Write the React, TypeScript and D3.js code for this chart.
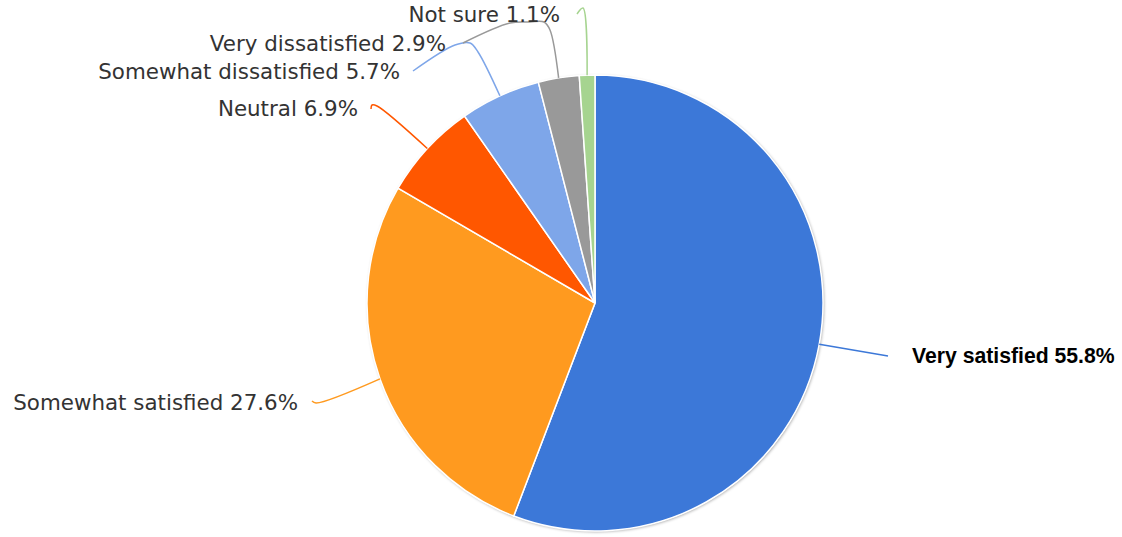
import React from "react";
import * as d3 from "d3";

const categories = [
  "Very satisfied",
  "Somewhat satisfied",
  "Neutral",
  "Somewhat dissatisfied",
  "Very dissatisfied",
  "Not sure",
];
const values = [55.8, 27.6, 6.9, 5.7, 2.9, 1.1];
const colors = ["#3c78d8", "#ff9a1f", "#ff5700", "#7ea6e9", "#999999", "#a6d490"];

// layout: label anchor and leader-line waypoints (pixel layout, not data)
const labelLayout = [
  { x: 912, y: 363, anchor: "start", bold: true, path: [[888, 356]] },
  { x: 298, y: 410, anchor: "end", bold: false, path: [[316, 403], [312, 401]] },
  { x: 358, y: 116, anchor: "end", bold: false, path: [[377, 106], [372, 105], [371, 109]] },
  { x: 400, y: 79, anchor: "end", bold: false, path: [[478, 52], [470, 43], [455, 45], [413, 71]] },
  { x: 446, y: 51, anchor: "end", bold: false, path: [[550, 30], [544, 22], [530, 22], [510, 23], [463, 43]] },
  { x: 560, y: 22, anchor: "end", bold: false, path: [[583, 8], [577, 14]] },
];

const W = 1122;
const H = 537;
const cx = 595;
const cy = 303;
const R = 228;

export default function App() {
  const pie = d3
    .pie<number>()
    .sort(null)
    .value((d) => d)
    .startAngle(0)
    .endAngle(2 * Math.PI);
  const arcs = pie(values);
  const arc = d3.arc<d3.PieArcDatum<number>>().innerRadius(0).outerRadius(R);
  const lineGen = d3.line().curve(d3.curveCatmullRom.alpha(0.5));

  return (
    <svg
      width={W}
      height={H}
      style={{ position: "absolute", left: 0, top: 0, background: "#fff" }}
    >
      <defs>
        <filter id="shadow" x="-10%" y="-10%" width="120%" height="120%">
          <feDropShadow dx="1" dy="1" stdDeviation="1.5" floodColor="#000" floodOpacity="0.35" />
        </filter>
      </defs>
      <g transform={`translate(${cx},${cy})`}>
        <circle r={R} fill="#fff" filter="url(#shadow)" />
        {arcs.map((a, i) => (
          <path key={i} d={arc(a) || ""} fill={colors[i]} stroke="#fff" strokeWidth={1.5} />
        ))}
      </g>
      {arcs.map((a, i) => {
        const mid = (a.startAngle + a.endAngle) / 2;
        const sx = cx + R * Math.sin(mid);
        const sy = cy - R * Math.cos(mid);
        const pts = [[sx, sy], ...labelLayout[i].path] as [number, number][];
        return (
          <path
            key={"l" + i}
            d={lineGen(pts) || ""}
            fill="none"
            stroke={colors[i]}
            strokeWidth={1.5}
          />
        );
      })}
      {arcs.map((a, i) => {
        const L = labelLayout[i];
        return (
          <text
            key={"t" + i}
            x={L.x}
            y={L.y}
            textAnchor={L.anchor as any}
            fontFamily={L.bold ? "'Liberation Sans', Arial, sans-serif" : "'DejaVu Sans', sans-serif"}
            fontWeight={L.bold ? "bold" : "normal"}
            fontSize={L.bold ? 21.2 : 21.4}
            fill={L.bold ? "#000" : "#333"}
          >
            {`${categories[i]} ${values[i].toFixed(1)}%`}
          </text>
        );
      })}
    </svg>
  );
}
